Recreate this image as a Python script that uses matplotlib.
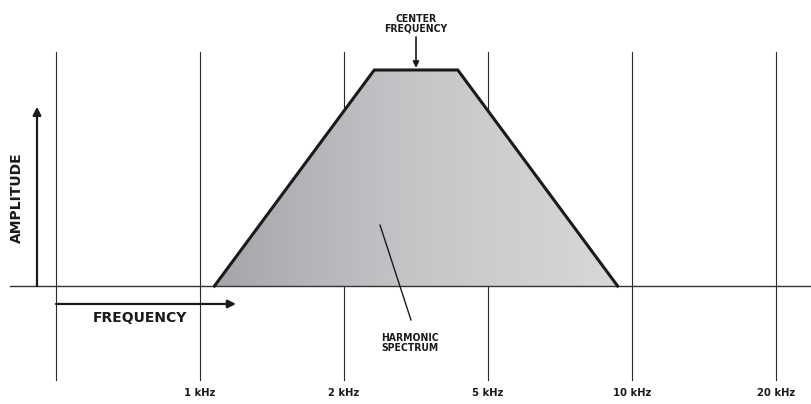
import matplotlib.pyplot as plt
import numpy as np
from matplotlib.patches import Polygon
from matplotlib.colors import LinearSegmentedColormap

# frequency grid (equally spaced columns) and the harmonic band shape
grid_pos = [0, 1, 2, 3, 4, 5]
tick_labels = ['', '1 kHz', '2 kHz', '5 kHz', '10 kHz', '20 kHz']
band_x = [1.10, 2.21, 2.79, 3.90]
band_y = [0.0, 1.0, 1.0, 0.0]

small = dict(family='DejaVu Sans', fontstretch='condensed', fontweight='bold',
             color='#1a1a1a', ha='center', va='center')

fig = plt.figure(figsize=(8.11, 4.04), dpi=100)
ax = fig.add_axes([0, 0, 1, 1])
ax.set_xlim(-0.389, 5.243)
ax.set_ylim(-0.546, 1.324)
ax.axis('off')

# vertical grid lines
for p in grid_pos:
    ax.plot([p, p], [-0.435, 1.083], color='#2a2a2a', lw=0.8, zorder=1)

# baseline
ax.plot([-0.32, 5.243], [0, 0], color='#333333', lw=1.0, zorder=3)

# shaded band with horizontal gradient
verts = list(zip(band_x, band_y))
poly = Polygon(verts, closed=True, facecolor='none', edgecolor='none')
ax.add_patch(poly)
cmap = LinearSegmentedColormap.from_list('band', ['#a5a6aa', '#c4c6c8', '#d6d8da'])
grad = np.linspace(0, 1, 256).reshape(1, -1)
im = ax.imshow(grad, extent=[band_x[0], band_x[-1], 0, 1], cmap=cmap,
               aspect='auto', zorder=2, interpolation='bicubic')
im.set_clip_path(poly)
ax.plot(band_x, band_y, color='#1a1a1a', lw=2.2, zorder=4,
        solid_joinstyle='miter')

# axis arrows
ax.annotate('', xy=(-0.132, 0.83), xytext=(-0.132, 0),
            arrowprops=dict(arrowstyle='-|>', color='#1a1a1a', lw=1.6,
                            mutation_scale=12, shrinkA=0, shrinkB=0))
ax.annotate('', xy=(1.25, -0.083), xytext=(0, -0.083),
            arrowprops=dict(arrowstyle='-|>', color='#1a1a1a', lw=1.6,
                            mutation_scale=12, shrinkA=0, shrinkB=0))
ax.text(0.58, -0.148, 'FREQUENCY', fontsize=10, fontweight='bold',
        color='#1a1a1a', ha='center', va='center')
ax.text(-0.27, 0.41, 'AMPLITUDE', fontsize=10, fontweight='bold',
        color='#1a1a1a', ha='center', va='center', rotation=90)

# center frequency marker
cx = (band_x[1] + band_x[2]) / 2
ax.annotate('', xy=(cx, 1.01), xytext=(cx, 1.153),
            arrowprops=dict(arrowstyle='-|>', color='#1a1a1a', lw=1.2,
                            mutation_scale=9, shrinkA=0, shrinkB=0))
ax.text(cx, 1.215, 'CENTER\nFREQUENCY', fontsize=7.5, linespacing=1.0, **small)

# harmonic spectrum leader
ax.plot([2.25, 2.465], [0.282, -0.157], color='#1a1a1a', lw=1.0, zorder=5)
ax.text(2.455, -0.265, 'HARMONIC\nSPECTRUM', fontsize=7.5, linespacing=1.0,
        **small)

# frequency tick labels
for p, lab in zip(grid_pos, tick_labels):
    ax.text(p, -0.495, lab, fontsize=8, **small)

fig.savefig('out.png', dpi=100)
